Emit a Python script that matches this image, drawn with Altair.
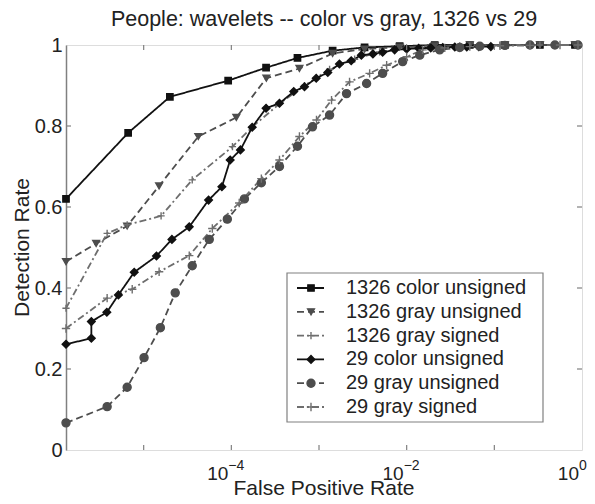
import altair as alt
import pandas as pd

names = ["1326 color unsigned", "1326 gray unsigned", "1326 gray signed",
         "29 color unsigned", "29 gray unsigned", "29 gray signed"]

s1_x = [1.3e-6, 6.65e-6, 1.99e-5, 9.2e-5, 2.49e-4, 5.68e-4, 1.43e-3, 3.31e-3, 8.32e-3, 2.09e-2, 5.25e-2, 0.132, 0.331, 0.832]
s1_y = [0.62, 0.783, 0.872, 0.912, 0.944, 0.968, 0.986, 0.994, 0.997, 1.0, 1.0, 1.0, 1.0, 1.0]

s2_x = [1.3e-6, 2.87e-6, 6.48e-6, 1.5e-5, 4.2e-5, 1.14e-4, 2.51e-4, 5.98e-4, 1.43e-3, 3.31e-3, 8.32e-3, 2.09e-2, 5.25e-2, 0.132, 0.331, 0.832]
s2_y = [0.465, 0.51, 0.553, 0.652, 0.774, 0.821, 0.918, 0.942, 0.979, 0.99, 0.995, 0.998, 1.0, 1.0, 1.0, 1.0]

s3_x = [1.3e-6, 3.83e-6, 6.48e-6, 1.58e-5, 3.58e-5, 1.03e-4, 1.74e-4, 3.54e-4, 6.83e-4, 1.32e-3, 2.55e-3, 4.91e-3, 9.49e-3, 1.83e-2, 4.03e-2, 0.116, 0.331, 0.9]
s3_y = [0.35, 0.535, 0.556, 0.578, 0.667, 0.749, 0.798, 0.855, 0.9, 0.94, 0.965, 0.983, 0.992, 0.996, 0.998, 1.0, 1.0, 1.0]

s4_x = [1.3e-6, 2.53e-6, 2.53e-6, 3.8e-6, 5.15e-6, 7.8e-6, 1.4e-5, 2.1e-5, 3.31e-5, 5.5e-5, 7.8e-5, 9.7e-5, 1.27e-4, 1.73e-4, 2.49e-4, 3.54e-4, 5.15e-4, 6.83e-4, 9.29e-4, 1.26e-3, 1.71e-3, 2.33e-3, 3.04e-3, 4.12e-3, 5.32e-3, 7.29e-3, 1.0e-2, 1.37e-2, 1.88e-2, 2.58e-2, 3.54e-2, 4.85e-2, 6.65e-2, 9.12e-2]
s4_y = [0.261, 0.276, 0.317, 0.340, 0.383, 0.439, 0.479, 0.520, 0.551, 0.617, 0.650, 0.716, 0.741, 0.797, 0.844, 0.856, 0.885, 0.897, 0.918, 0.932, 0.953, 0.961, 0.975, 0.978, 0.982, 0.988, 0.99, 0.992, 0.993, 0.994, 0.995, 0.995, 0.996, 0.996]

s5_x = [1.3e-6, 3.83e-6, 6.48e-6, 1.01e-5, 1.55e-5, 2.29e-5, 3.58e-5, 5.6e-5, 9.0e-5, 1.41e-4, 2.2e-4, 3.54e-4, 5.68e-4, 8.43e-4, 1.32e-3, 2.06e-3, 3.49e-3, 5.32e-3, 9.0e-3, 1.41e-2, 2.38e-2, 4.03e-2, 6.83e-2, 0.132, 0.255, 0.491, 0.9]
s5_y = [0.067, 0.107, 0.155, 0.228, 0.302, 0.388, 0.455, 0.52, 0.57, 0.62, 0.66, 0.70, 0.75, 0.798, 0.827, 0.88, 0.905, 0.93, 0.959, 0.975, 0.988, 0.994, 0.997, 0.999, 1.0, 1.0, 1.0]

s6_x = [1.3e-6, 3.83e-6, 7.4e-6, 1.5e-5, 3.31e-5, 6.07e-5, 1.23e-4, 2.2e-4, 3.54e-4, 5.98e-4, 9.36e-4, 1.39e-3, 2.23e-3, 3.78e-3, 5.91e-3, 1.0e-2, 1.52e-2, 2.72e-2, 5.25e-2, 0.116, 0.255, 0.561, 0.9]
s6_y = [0.30, 0.375, 0.397, 0.44, 0.48, 0.547, 0.61, 0.67, 0.716, 0.774, 0.815, 0.864, 0.909, 0.93, 0.95, 0.971, 0.988, 0.993, 0.996, 0.998, 0.999, 1.0, 1.0]

x_minor_ticks = [1e-5, 1e-4, 1e-3, 1e-2, 1e-1]
y_minor_ticks = [0.2, 0.4, 0.6, 0.8]
y_label_values = [0, 0.2, 0.4, 0.6, 0.8, 1]
x_label_values = [1e-4, 1e-2, 1.0]
x_label_exps = ["\u22124", "\u22122", "0"]

TITLE = "People: wavelets -- color vs gray, 1326 vs 29"
X_TITLE = "False Positive Rate"
Y_TITLE = "Detection Rate"
FONT = "Liberation Sans"
TXT = "#222222"
FRAME = "#808080"

W, H = 516, 405

series_xy = [(s1_x, s1_y), (s2_x, s2_y), (s3_x, s3_y), (s4_x, s4_y), (s5_x, s5_y), (s6_x, s6_y)]
rows = []
for k, (xs, ys) in enumerate(series_xy):
    for i, (xv, yv) in enumerate(zip(xs, ys)):
        rows.append({"series": names[k], "x": xv, "y": yv, "i": i})
df = pd.DataFrame(rows)

colors = ["#111111", "#4d4d4d", "#6e6e6e", "#111111", "#4d4d4d", "#6e6e6e"]
dashes = [[1, 0], [7, 4], [7, 3, 2, 3], [1, 0], [7, 4], [7, 3, 2, 3]]
plus = "M-1,0H1M0,-1V1"
shapes = ["square", "triangle-down", plus, "diamond", "circle", plus]
sizes = [40, 70, 60, 60, 30, 60]

xscale = alt.Scale(type="log", domain=[1.3e-6, 1.0])
yscale = alt.Scale(domain=[0, 1])
cscale = alt.Scale(domain=names, range=colors)
dscale = alt.Scale(domain=names, range=dashes)
shscale = alt.Scale(domain=names, range=shapes)
szscale = alt.Scale(domain=names, range=sizes)

lines = alt.Chart(df).mark_line(strokeWidth=1.8).encode(
    x=alt.X("x:Q", scale=xscale, axis=None),
    y=alt.Y("y:Q", scale=yscale,
            axis=alt.Axis(title=None, values=y_label_values,
                          format="~g", ticks=False, domain=True, domainColor=FRAME,
                          domainWidth=1.5, grid=False,
                          labelFont=FONT, labelFontSize=20, labelColor=TXT, labelPadding=4)),
    color=alt.Color("series:N", scale=cscale, legend=None),
    strokeDash=alt.StrokeDash("series:N", scale=dscale, legend=None),
    order=alt.Order("i:Q"),
    detail="series:N",
)

points = alt.Chart(df).mark_point(filled=True, strokeWidth=1.4, opacity=1).encode(
    x=alt.X("x:Q", scale=xscale, axis=None),
    y=alt.Y("y:Q", scale=yscale, axis=None),
    shape=alt.Shape("series:N", scale=shscale, legend=None),
    fill=alt.Fill("series:N", scale=cscale, legend=None),
    stroke=alt.Stroke("series:N", scale=cscale, legend=None),
    size=alt.Size("series:N", scale=szscale, legend=None),
)

xt = pd.DataFrame({"v": x_minor_ticks})
yt = pd.DataFrame({"v": y_minor_ticks})
tick_x_bottom = alt.Chart(xt).mark_rule(color=FRAME, strokeWidth=1.2).encode(
    x=alt.X("v:Q", scale=xscale, axis=None), y=alt.value(H), y2=alt.value(H - 5))
tick_x_top = alt.Chart(xt).mark_rule(color=FRAME, strokeWidth=1.2).encode(
    x=alt.X("v:Q", scale=xscale, axis=None), y=alt.value(0), y2=alt.value(5))
tick_y_left = alt.Chart(yt).mark_rule(color=FRAME, strokeWidth=1.2).encode(
    y=alt.Y("v:Q", scale=yscale, axis=None), x=alt.value(0), x2=alt.value(5))
tick_y_right = alt.Chart(yt).mark_rule(color=FRAME, strokeWidth=1.2).encode(
    y=alt.Y("v:Q", scale=yscale, axis=None), x=alt.value(W), x2=alt.value(W - 5))

xl = pd.DataFrame({"v": x_label_values, "e": x_label_exps})
xlab_base = alt.Chart(xl).mark_text(align="right", baseline="alphabetic", font=FONT,
                                    fontSize=19, color=TXT, dx=-3).encode(
    x=alt.X("v:Q", scale=xscale, axis=None), y=alt.value(H + 30), text=alt.value("10"))
xlab_exp = alt.Chart(xl).mark_text(align="left", baseline="alphabetic", font=FONT,
                                   fontSize=14, color=TXT, dx=-3).encode(
    x=alt.X("v:Q", scale=xscale, axis=None), y=alt.value(H + 20), text="e:N")

one = pd.DataFrame({"a": [0]})
x_title = alt.Chart(one).mark_text(text=X_TITLE, align="center", baseline="alphabetic",
                                   font=FONT, fontSize=21, color=TXT).encode(
    x=alt.value(W / 2), y=alt.value(H + 45))
y_title = alt.Chart(one).mark_text(text=Y_TITLE, align="center", baseline="alphabetic",
                                   angle=270, font=FONT, fontSize=21, color=TXT).encode(
    x=alt.value(-37), y=alt.value(H / 2))

# legend
leg = pd.DataFrame({"series": names})
ly = alt.Y("series:N", scale=alt.Scale(type="point", domain=names, range=[243, 362], padding=0), axis=None)
leg_box = alt.Chart(one).mark_rect(fill="white", stroke=FRAME, strokeWidth=1.2).encode(
    x=alt.value(221), x2=alt.value(477), y=alt.value(228), y2=alt.value(377))
leg_line = alt.Chart(leg).mark_rule(strokeWidth=1.8).encode(
    x=alt.value(231), x2=alt.value(258), y=ly,
    color=alt.Color("series:N", scale=cscale, legend=None),
    strokeDash=alt.StrokeDash("series:N", scale=dscale, legend=None))
leg_pt = alt.Chart(leg).mark_point(filled=True, strokeWidth=1.4, opacity=1).encode(
    x=alt.value(245), y=ly,
    shape=alt.Shape("series:N", scale=shscale, legend=None),
    fill=alt.Fill("series:N", scale=cscale, legend=None),
    stroke=alt.Stroke("series:N", scale=cscale, legend=None),
    size=alt.Size("series:N", scale=szscale, legend=None))
leg_txt = alt.Chart(leg).mark_text(align="left", baseline="middle", font=FONT,
                                   fontSize=20, color=TXT).encode(
    x=alt.value(280), y=ly, text="series:N")

chart = alt.layer(
    lines, points,
    tick_x_bottom, tick_x_top, tick_y_left, tick_y_right,
    xlab_base, xlab_exp, x_title, y_title,
    leg_box, leg_line, leg_pt, leg_txt,
).resolve_scale(y="independent").properties(
    width=W, height=H,
    title=alt.Title(TITLE, font=FONT, fontSize=21.5, fontWeight="normal", color=TXT, offset=5),
    autosize=alt.AutoSizeParams(type="none"),
    padding={"left": 58, "top": 37, "right": 5, "bottom": 46},
).configure_view(stroke=FRAME, strokeWidth=1.5).configure(background="white")

chart.save("out.html", embed_options={"renderer": "svg", "actions": False})
